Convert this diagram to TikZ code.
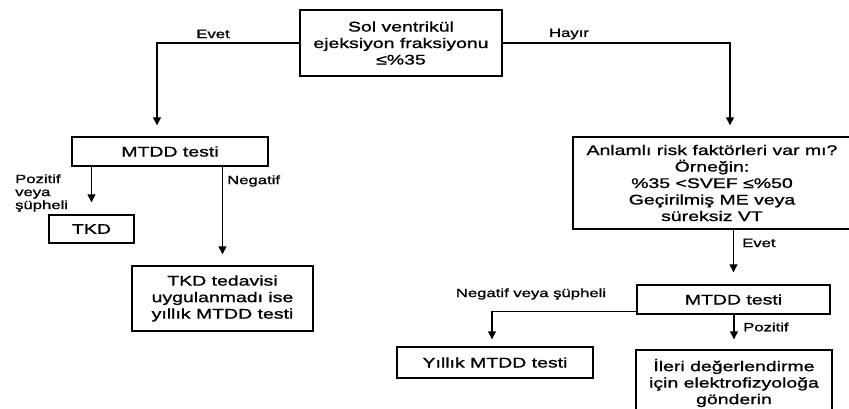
\documentclass[tikz,border=0pt]{standalone}
\usepackage{fontspec}
\setmainfont[FakeStretch=1.39,FakeBold=1.2]{Liberation Sans}
\usetikzlibrary{arrows.meta,calc}
\begin{document}
\begin{tikzpicture}[x=1pt,y=-1pt,
  box/.style={draw, line width=1.4pt, inner sep=0pt, align=center,
    font=\fontsize{14}{16.5}\selectfont},
  lbl/.style={inner sep=0pt, font=\fontsize{12}{13}\selectfont},
  arr/.style={line width=1.3pt, -{Triangle[length=8pt,width=8pt]}}]
\useasboundingbox (0,0) rectangle (849,409);
% boxes
\node[box, minimum width=202pt, minimum height=66pt] (top) at (401,43)
  {Sol ventrikül\\ejeksiyon fraksiyonu\\≤\%35};
\node[box, minimum width=196pt, minimum height=29pt] (lmt) at (170,151.5) {MTDD testi};
\node[box, minimum width=85pt, minimum height=28pt] (tkd) at (91.5,229) {TKD};
\node[box, minimum width=181pt, minimum height=65pt] (tkdt) at (222.5,298.5)
  {TKD tedavisi\\uygulanmadı ise\\yıllık MTDD testi};
\node[box, minimum width=278pt, minimum height=92pt] (risk) at (712,183)
  {Anlamlı risk faktörleri var mı?\\Örneğin:\\\%35 <SVEF ≤\%50\\Geçirilmiş ME veya\\süreksiz VT};
\node[box, minimum width=193pt, minimum height=29pt] (rmt) at (733.5,299.5) {MTDD testi};
\node[box, minimum width=196pt, minimum height=31pt] (yil) at (495,362.5) {Yıllık MTDD testi};
\node[box, minimum width=196pt, minimum height=66pt] (ileri) at (734,383)
  {İleri değerlendirme\\için elektrofizyoloğa\\gönderin};
% connectors
\draw[arr, shorten >=11pt] (top.west) -| ([xshift=-13pt]lmt.north);
\draw[arr, shorten >=11pt] (top.east) -| ([xshift=18pt]risk.north);
\draw[arr, shorten >=12pt] (lmt.south -| tkd.north) -- (tkd.north);
\draw[arr, shorten >=11pt] (lmt.south -| tkdt.north) -- (tkdt.north);
\draw[arr, shorten >=12pt] (risk.south -| rmt.north) -- (rmt.north);
\draw[arr, shorten >=7pt] ([yshift=-12pt]rmt.west) -| ([xshift=-3pt]yil.north);
\draw[arr, shorten >=10pt] (rmt.south -| ileri.north) -- (ileri.north);
% labels
\node[lbl] (l1) at (213,34) {Evet};
\node[lbl] (l2) at (569,34) {Hayır};
\node[lbl, anchor=west, align=left] (l3) at (15,193) {Pozitif\\veya\\şüpheli};
\node[lbl, anchor=west] (l4) at (227,181) {Negatif};
\node[lbl, anchor=west] (l5) at (742,243) {Evet};
\node[lbl] (l6) at (531,294) {Negatif veya şüpheli};
\node[lbl, anchor=west] (l7) at (743,327) {Pozitif};
\end{tikzpicture}
\end{document}
